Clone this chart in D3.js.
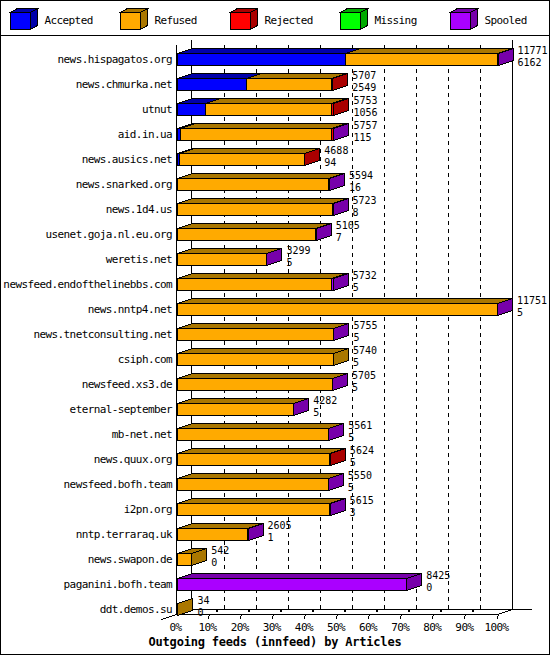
<!DOCTYPE html>
<html>
<head>
<meta charset="utf-8">
<script src="https://cdn.jsdelivr.net/npm/d3@7"></script>
<style>
body { margin: 0; background: #fff; }
text { font-family: "DejaVu Sans Mono", monospace; font-size: 11px; letter-spacing: -0.6px; fill: #000; }
text.val { font-size: 10px; letter-spacing: 0; }
text.title { font-weight: bold; font-size: 12px; letter-spacing: -0.2px; }
</style>
</head>
<body>
<div id="chart"></div>
<script>
var w = 550;
var h = 655;

// feeds, top to bottom
var hosts = ["news.hispagatos.org", "news.chmurka.net", "utnut", "aid.in.ua", "news.ausics.net",
  "news.snarked.org", "news.1d4.us", "usenet.goja.nl.eu.org", "weretis.net", "newsfeed.endofthelinebbs.com",
  "news.nntp4.net", "news.tnetconsulting.net", "csiph.com", "newsfeed.xs3.de", "eternal-september",
  "mb-net.net", "news.quux.org", "newsfeed.bofh.team", "i2pn.org", "nntp.terraraq.uk",
  "news.swapon.de", "paganini.bofh.team", "ddt.demos.su"];
var totals   = [11771, 5707, 5753, 5757, 4688, 5594, 5723, 5105, 3299, 5732, 11751, 5755, 5740, 5705, 4282, 5561, 5624, 5550, 5615, 2605, 542, 8425, 34];
var accepted = [6162, 2549, 1056, 115, 94, 16, 8, 7, 5, 5, 5, 5, 5, 5, 5, 5, 5, 5, 3, 1, 0, 0, 0];
var refused  = [5584, 3133, 4597, 5562, 4574, 5538, 5700, 5088, 3284, 5677, 11736, 5740, 5735, 5690, 4267, 5546, 5604, 5535, 5602, 2594, 542, 0, 34];
var rejected = [0, 25, 100, 60, 20, 0, 0, 0, 0, 0, 0, 0, 0, 0, 0, 0, 15, 0, 0, 0, 0, 0, 0];
var missing  = [0, 0, 0, 0, 0, 0, 0, 0, 0, 0, 0, 0, 0, 0, 0, 0, 0, 0, 0, 0, 0, 0, 0];
var spooled  = [25, 0, 0, 20, 0, 40, 15, 10, 10, 50, 10, 10, 0, 10, 10, 10, 0, 10, 10, 10, 0, 8425, 0];

var seriesNames = ["Accepted", "Refused", "Rejected", "Missing", "Spooled"];
var frontColors = ["#0000ff", "#ffaa00", "#ff0000", "#00ff00", "#aa00ff"];
var darkColors  = ["#0000aa", "#aa7700", "#aa0000", "#00aa00", "#7700aa"];
var pctTicks = [0, 10, 20, 30, 40, 50, 60, 70, 80, 90, 100];
var title = "Outgoing feeds (innfeed) by Articles";

var series = [accepted, refused, rejected, missing, spooled];

// 3d depth offset
var dx = 15, dy = 5;

var svg = d3.select("div#chart").append("svg")
  .attr("width", w)
  .attr("height", h)
  .style("display", "block");

svg.append("rect")
  .attr("x", 0.5).attr("y", 0.5)
  .attr("width", w - 1).attr("height", h - 1)
  .attr("fill", "#fff").attr("stroke", "#000");

var x = d3.scaleLinear().domain([0, d3.max(totals)]).range([176.5, 497.5]);
var pct = d3.scaleLinear().domain([0, 100]).range([176.5, 497.5]);
var y = d3.scaleBand().domain(hosts).range([40, 623]).paddingInner(0.32).paddingOuter(0.32);

// legend
svg.append("line")
  .attr("x1", 0).attr("x2", w).attr("y1", 35.5).attr("y2", 35.5)
  .attr("stroke", "#000");

var legend = svg.selectAll("g.legend")
  .data(seriesNames)
  .enter()
  .append("g")
  .attr("class", "legend")
  .attr("transform", function(d, i) { return "translate(" + (10 + i * 110) + ",0)"; });

function cube(g, x0, x1, yT, yB, ddx, ddy, front, dark) {
  g.append("path")
    .attr("d", "M" + x0 + "," + yT + "H" + x1 + "V" + yB + "H" + x0 + "Z")
    .attr("fill", front).attr("stroke", "#000").attr("shape-rendering", "crispEdges");
  g.append("path")
    .attr("d", "M" + x0 + "," + yT + "L" + (x0 + ddx) + "," + (yT - ddy) + "H" + (x1 + ddx) + "L" + x1 + "," + yT + "Z")
    .attr("fill", dark).attr("stroke", "#000").attr("shape-rendering", "crispEdges");
  g.append("path")
    .attr("d", "M" + x1 + "," + yT + "L" + (x1 + ddx) + "," + (yT - ddy) + "V" + (yB - ddy) + "L" + x1 + "," + yB + "Z")
    .attr("fill", dark).attr("stroke", "#000").attr("shape-rendering", "crispEdges");
}

legend.each(function(d, i) {
  cube(d3.select(this), 0.5, 20.5, 12.5, 29.5, 7, 4, frontColors[i], darkColors[i]);
});
legend.append("text")
  .attr("x", 34.5)
  .attr("y", 24)
  .text(function(d) { return d; });

// walls and grid
var grid = svg.append("g");
grid.selectAll("line.grid")
  .data(pctTicks.slice(1, -1))
  .enter()
  .append("line")
  .attr("x1", function(d) { return Math.round(pct(d)) + dx + 0.5; })
  .attr("x2", function(d) { return Math.round(pct(d)) + dx + 0.5; })
  .attr("y1", 45)
  .attr("y2", 610)
  .attr("stroke", "#000")
  .attr("stroke-dasharray", "4,4");

grid.append("line")
  .attr("x1", 176.5).attr("x2", 176.5).attr("y1", 45).attr("y2", 614)
  .attr("stroke", "#000");
grid.append("line")
  .attr("x1", 176.5 + dx).attr("x2", 176.5 + dx).attr("y1", 40).attr("y2", 610)
  .attr("stroke", "#000");
grid.append("line")
  .attr("x1", 497.5 + dx).attr("x2", 497.5 + dx).attr("y1", 40).attr("y2", 610)
  .attr("stroke", "#000");

// floor
grid.append("line")
  .attr("x1", 176.5 + dx).attr("x2", 532).attr("y1", 609.5).attr("y2", 609.5)
  .attr("stroke", "#000");
grid.append("line")
  .attr("x1", 176.5).attr("x2", 497.5).attr("y1", 614.5).attr("y2", 614.5)
  .attr("stroke", "#000");
grid.append("line")
  .attr("x1", 176.5 - dx).attr("y1", 619.5).attr("x2", 176.5 + dx).attr("y2", 609.5)
  .attr("stroke", "#000").attr("shape-rendering", "crispEdges");
grid.append("line")
  .attr("x1", 497.5).attr("y1", 614.5).attr("x2", 497.5 + dx).attr("y2", 609.5)
  .attr("stroke", "#000").attr("shape-rendering", "crispEdges");

// bars
var rows = svg.selectAll("g.row")
  .data(hosts)
  .enter()
  .append("g")
  .attr("class", "row");

rows.each(function(host, r) {
  var g = d3.select(this);
  var yT = y(host) + dy + 0.5;
  var yB = y(host) + y.bandwidth() + 0.5;
  var cum = 0;
  series.forEach(function(s, k) {
    var v = s[r];
    if (v <= 0) return;
    var x0 = Math.round(x(cum)) + 0.5;
    var x1 = Math.round(x(cum + v)) + 0.5;
    cube(g, x0, x1, yT, yB, dx, dy, frontColors[k], darkColors[k]);
    cum += v;
  });
});

// host names
rows.append("text")
  .attr("x", 172)
  .attr("y", function(d) { return y(d) + 15; })
  .attr("text-anchor", "end")
  .text(function(d) { return d; });

// value labels: total then accepted
rows.append("text")
  .attr("class", "val")
  .attr("x", function(d, i) { return x(totals[i]) + dx + 5; })
  .attr("y", function(d) { return y(d) + 6; })
  .text(function(d, i) { return totals[i]; });
rows.append("text")
  .attr("class", "val")
  .attr("x", function(d, i) { return x(totals[i]) + dx + 5; })
  .attr("y", function(d) { return y(d) + 18; })
  .text(function(d, i) { return accepted[i]; });

// x ticks
var ticks = svg.selectAll("g.tick")
  .data(pctTicks)
  .enter()
  .append("g")
  .attr("class", "tick");

ticks.filter(function(d) { return d > 0; })
  .append("line")
  .attr("x1", function(d) { return Math.round(pct(d)) - 1; })
  .attr("y1", 618.5)
  .attr("x2", function(d) { return Math.round(pct(d)) + 1; })
  .attr("y2", 614)
  .attr("stroke", "#000")
  .attr("shape-rendering", "crispEdges");
ticks.filter(function(d) { return d > 0 && d < 100; })
  .append("rect")
  .attr("x", function(d) { return Math.round(pct(d)) + 7; })
  .attr("y", 610)
  .attr("width", 2)
  .attr("height", 2)
  .attr("fill", "#000");
ticks.append("text")
  .attr("x", function(d) { return pct(d) - 1; })
  .attr("y", 631)
  .attr("text-anchor", "middle")
  .text(function(d) { return d + "%"; });

svg.append("text")
  .attr("class", "title")
  .attr("x", w / 2)
  .attr("y", 646)
  .attr("text-anchor", "middle")
  .text(title);
</script>
</body>
</html>
